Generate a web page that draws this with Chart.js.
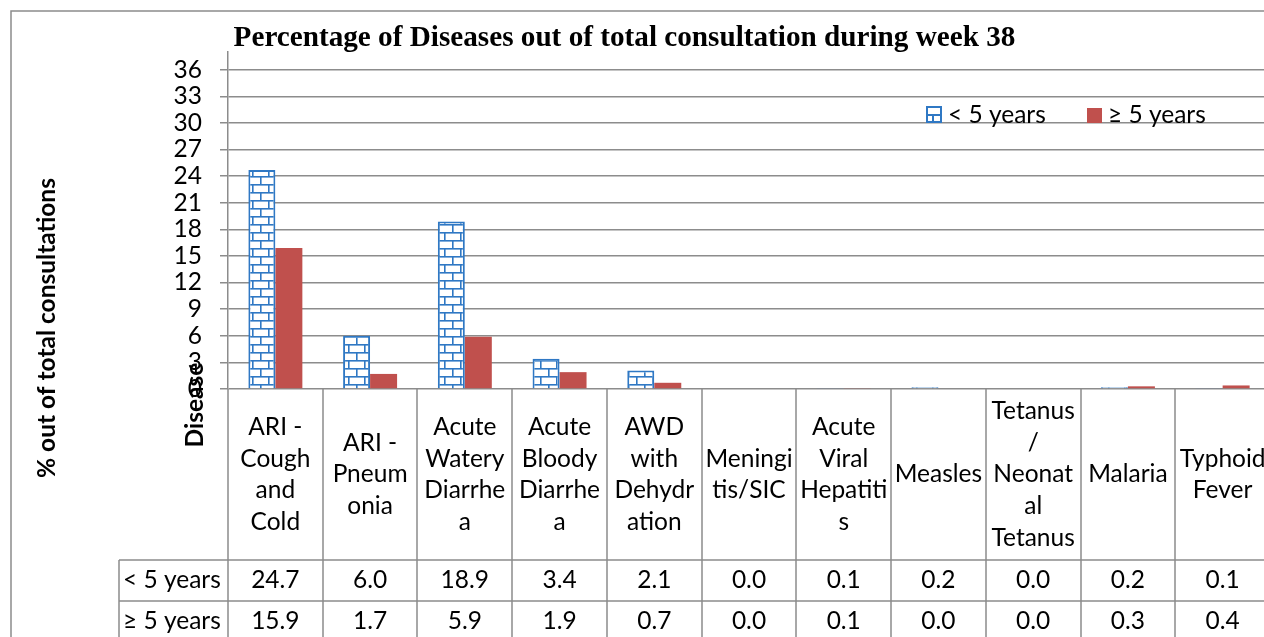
<!DOCTYPE html>
<html>
<head>
<meta charset="utf-8">
<script src="https://cdn.jsdelivr.net/npm/chart.js@4.4.1/dist/chart.umd.min.js"></script>
<style>
  html, body { margin: 0; padding: 0; background: #fff; overflow: hidden; }
  #wrap { width: 1290px; height: 660px; }
</style>
</head>
<body>
<div id="wrap"><canvas id="c" width="1290" height="660"></canvas></div>
<script>
const chartTitle = "Percentage of Diseases out of total consultation during week 38";
const yAxisTitle = "% out of total consultations";
const xAxisTitle = "Disease";
const categoryLines = [
  ["ARI -", "Cough", "and", "Cold"],
  ["ARI -", "Pneum", "onia"],
  ["Acute", "Watery", "Diarrhe", "a"],
  ["Acute", "Bloody", "Diarrhe", "a"],
  ["AWD", "with", "Dehydr", "ation"],
  ["Meningi", "tis/SIC"],
  ["Acute", "Viral", "Hepatiti", "s"],
  ["Measles"],
  ["Tetanus", "/", "Neonat", "al", "Tetanus"],
  ["Malaria"],
  ["Typhoid", "Fever"]
];
const seriesNames = ["< 5 years", "\u2265 5 years"];
const under5 = [24.7, 6.0, 18.9, 3.4, 2.1, 0.0, 0.1, 0.2, 0.0, 0.2, 0.1];
const over5  = [15.9, 1.7, 5.9, 1.9, 0.7, 0.0, 0.1, 0.0, 0.0, 0.3, 0.4];
const yTickValues = [0, 3, 6, 9, 12, 15, 18, 21, 24, 27, 30, 33, 36];
const yMin = 0, yMax = 38;

const BLUE = '#2F78C4';
const RED = '#C0504D';
const GRID = '#8c8c8c';
const FONT = 'Lato, "Open Sans", sans-serif';
const FS = 24.5;

function brickPattern() {
  const p = document.createElement('canvas');
  p.width = 16; p.height = 16;
  const g = p.getContext('2d');
  g.fillStyle = '#fff'; g.fillRect(0, 0, 16, 16);
  g.fillStyle = BLUE;
  g.fillRect(0, 0, 16, 1.6);
  g.fillRect(0, 8, 16, 1.6);
  g.fillRect(4, 0, 1.6, 8);
  g.fillRect(12, 8, 1.6, 8);
  return document.getElementById('c').getContext('2d').createPattern(p, 'repeat');
}

const tablePlugin = {
  id: 'tablePlugin',
  afterDraw(chart) {
    const ctx = chart.ctx;
    const xs = chart.scales.x, ca = chart.chartArea;
    const n = categoryLines.length;
    const colW = (ca.right - ca.left) / n;
    const headerBottom = ca.bottom + 171;
    const rowH = 40.5;
    const rowLabelLeft = 119;
    const tableBottom = headerBottom + rowH * 2;
    ctx.save();
    // outer border
    ctx.strokeStyle = GRID; ctx.lineWidth = 1.5;
    ctx.beginPath();
    ctx.moveTo(11, chart.height + 5); ctx.lineTo(11, 11); ctx.lineTo(chart.width + 5, 11);
    ctx.stroke();

    // title
    ctx.fillStyle = '#000';
    ctx.font = 'bold 29.2px "Liberation Serif", "Times New Roman", serif';
    ctx.textAlign = 'center'; ctx.textBaseline = 'alphabetic';
    ctx.fillText(chartTitle, 624.5, 46);

    // axis titles
    ctx.font = 'bold ' + FS + 'px ' + FONT;
    ctx.textBaseline = 'middle';
    ctx.save(); ctx.translate(47, 328); ctx.rotate(-Math.PI / 2);
    ctx.fillText(yAxisTitle, 0, 0); ctx.restore();
    ctx.save(); ctx.translate(195, 405); ctx.rotate(-Math.PI / 2);
    ctx.fillText(xAxisTitle, 0, 0); ctx.restore();

    // table lines
    ctx.strokeStyle = GRID; ctx.lineWidth = 1.5;
    ctx.beginPath();
    for (let i = 0; i <= n; i++) {
      const bx = Math.round(ca.left + i * colW);
      ctx.moveTo(bx, ca.bottom); ctx.lineTo(bx, tableBottom);
    }
    ctx.moveTo(rowLabelLeft, headerBottom); ctx.lineTo(rowLabelLeft, tableBottom);
    [headerBottom, headerBottom + rowH, tableBottom].forEach(yy => {
      ctx.moveTo(rowLabelLeft, Math.round(yy)); ctx.lineTo(ca.right, Math.round(yy));
    });
    ctx.stroke();

    // category labels
    ctx.fillStyle = '#000';
    ctx.font = FS + 'px ' + FONT;
    ctx.textAlign = 'center'; ctx.textBaseline = 'middle';
    const lh = 31.7;
    const hc = (ca.bottom + headerBottom) / 2;
    categoryLines.forEach((lines, i) => {
      const cx = xs.getPixelForValue(i);
      const y0 = hc - (lines.length - 1) * lh / 2;
      lines.forEach((t, k) => ctx.fillText(t, cx, y0 + k * lh));
    });
    // values
    [under5, over5].forEach((arr, r) => {
      const cy = headerBottom + rowH * (r + 0.5);
      ctx.textAlign = 'center';
      arr.forEach((v, i) => ctx.fillText(v.toFixed(1), xs.getPixelForValue(i), cy));
      ctx.textAlign = 'left';
      ctx.fillText(seriesNames[r], rowLabelLeft + 4, cy);
    });

    // legend
    const ly = 115;
    ctx.fillStyle = '#fff'; ctx.fillRect(927, ly - 8, 14, 15);
    ctx.strokeStyle = BLUE; ctx.lineWidth = 2;
    ctx.strokeRect(927, ly - 8, 14, 15);
    ctx.beginPath(); ctx.moveTo(927, ly); ctx.lineTo(941, ly);
    ctx.moveTo(933, ly); ctx.lineTo(933, ly + 7); ctx.stroke();
    ctx.fillStyle = '#000'; ctx.textAlign = 'left';
    ctx.fillText(seriesNames[0], 948, ly);
    ctx.fillStyle = RED; ctx.fillRect(1087, ly - 7, 15, 15);
    ctx.fillStyle = '#000';
    ctx.fillText(seriesNames[1], 1108, ly);
    ctx.restore();
  }
};

new Chart(document.getElementById('c'), {
  type: 'bar',
  data: {
    labels: categoryLines,
    datasets: [
      { label: seriesNames[0], data: under5, backgroundColor: brickPattern(), borderColor: BLUE, borderWidth: 2, borderSkipped: 'bottom' },
      { label: seriesNames[1], data: over5, backgroundColor: RED, borderWidth: 0 }
    ]
  },
  options: {
    responsive: false,
    animation: false,
    layout: { padding: { top: 52, right: 20, left: 0, bottom: 0 } },
    datasets: { bar: { categoryPercentage: 0.57, barPercentage: 1.0 } },
    plugins: { legend: { display: false }, title: { display: false }, tooltip: { enabled: false } },
    scales: {
      x: {
        ticks: { display: false },
        grid: { display: false },
        border: { display: false },
        afterFit(s) { s.height = 271; }
      },
      y: {
        min: yMin, max: yMax,
        ticks: { autoSkip: false, padding: 18, color: '#000', font: { family: FONT, size: FS } },
        afterBuildTicks(s) { s.ticks = yTickValues.map(v => ({ value: v })); },
        grid: { color: GRID, lineWidth: 1.5, tickLength: 8 },
        border: { display: true, color: GRID, width: 1.5 },
        afterFit(s) { s.width = 228; }
      }
    }
  },
  plugins: [tablePlugin]
});
</script>
</body>
</html>
